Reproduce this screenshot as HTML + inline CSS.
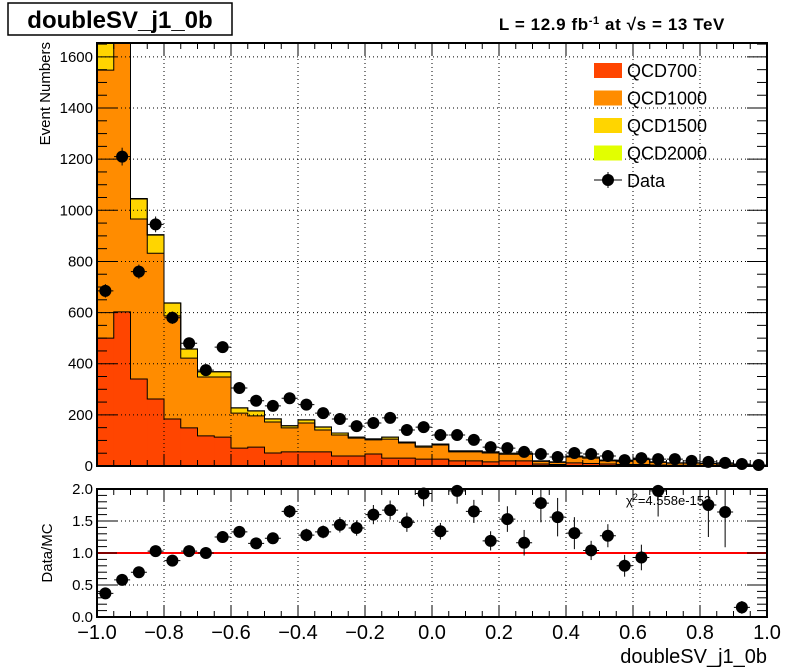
<!DOCTYPE html>
<html><head><meta charset="utf-8">
<style>
html,body{margin:0;padding:0;background:#fff;}
svg{display:block;font-family:"Liberation Sans",Arial,sans-serif;}
</style></head>
<body>
<svg id="c" width="798" height="669" viewBox="0 0 798 669" xmlns="http://www.w3.org/2000/svg">
<rect x="0" y="0" width="798" height="669" fill="#fff"/>
<g>
<rect x="8" y="3" width="224" height="32" fill="#fff" stroke="#000" stroke-width="1.5"/>
<text x="120" y="28" text-anchor="middle" font-size="24" font-weight="bold">doubleSV_j1_0b</text>
</g>
<text x="725" y="30" text-anchor="end" font-size="17" font-weight="bold" letter-spacing="0.6">L = 12.9 fb<tspan dy="-6" font-size="11">-1</tspan><tspan dy="6"> at  </tspan><tspan>√s = 13 TeV</tspan></text>
<g id="main"></g>
<g id="ratio"></g>
</svg>
<script>
const edges0 = -1.0, binW = 0.05;
const qcd700  = [500,603,340,262,184,149,118,113,70,74,51,55,55,55,39,39,47,31,31,27,27,20,20,16,20,20,8,6,12,10,8,6,6,4,3,3,2,2,1,1];
const qcd1000 = [1048,1300,626,570,403,273,230,235,137,122,121,94,113,86,82,70,55,74,59,47,55,35,35,35,26,26,10,8,23,21,12,12,19,10,8,8,7,5,4,3];
const qcd1500 = [300,190,78,71,50,35,20,20,20,19,12,8,12,11,8,4,4,8,4,4,4,4,4,4,4,4,2,2,4,4,3,2,2,2,1,1,1,1,1,0];
const qcd2000 = [5,5,2,2,1,1,1,1,1,1,1,1,1,1,0,0,0,0,0,0,0,0,0,0,0,0,0,0,0,0,0,0,0,0,0,0,0,0,0,0];
const dataVals = [685,1210,760,945,580,480,375,465,305,255,235,265,240,207,184,156,168,188,141,152,121,121,102,74,70,55,47,35,51,47,39,23,31,27,27,20,16,12,8,4];
const ratioVals = [0.37,0.58,0.70,1.03,0.88,1.03,1.0,1.25,1.33,1.15,1.23,1.65,1.28,1.33,1.44,1.39,1.60,1.67,1.48,1.93,1.34,1.97,1.65,1.19,1.53,1.16,1.78,1.56,1.31,1.04,1.27,0.80,0.93,1.97,null,null,1.75,1.64,0.15,null];
const ratioErr = [0.05,0.04,0.05,0.06,0.06,0.07,0.07,0.08,0.09,0.08,0.09,0.1,0.1,0.1,0.12,0.12,0.15,0.15,0.15,0.2,0.13,0.2,0.18,0.15,0.2,0.2,0.3,0.3,0.25,0.15,0.18,0.17,0.2,0.4,0,0,0.5,0.55,0.1,0];
const yTicks = [0,200,400,600,800,1000,1200,1400,1600];
const rTicks = [0,0.5,1.0,1.5,2.0];
const xTicks = [-1.0,-0.8,-0.6,-0.4,-0.2,0.0,0.2,0.4,0.6,0.8,1.0];
const legendNames = ["QCD700","QCD1000","QCD1500","QCD2000"];
const colors = ["#ff4500","#ff8c00","#ffd500","#e2ff00"];

const NS="http://www.w3.org/2000/svg";
const X0=97,X1=767,MY0=43,MY1=466,RY0=489,RY1=617;
const YMAX=(MY1-MY0)/0.2557;
const xs=v=>X0+(v+1)/2*(X1-X0);
const ym=v=>MY1-Math.min(v,YMAX)*0.2557;
const yr=v=>RY1-v*64;
function mk(tag,attrs,parent){const e=document.createElementNS(NS,tag);for(const k in attrs)e.setAttribute(k,attrs[k]);parent.appendChild(e);return e;}
const main=document.getElementById('main'), ratio=document.getElementById('ratio');

const series=[qcd700,qcd1000,qcd1500,qcd2000];
const n=dataVals.length;
const cum=series.map(()=>new Array(n).fill(0));
for(let i=0;i<n;i++){let b=0;series.forEach((s,k)=>{b+=s[i];cum[k][i]=b;});}
for(let k=series.length-1;k>=0;k--){
  for(let i=0;i<n;i++){
    const xa=xs(edges0+i*binW), xb=xs(edges0+(i+1)*binW);
    const r=mk('rect',{x:xa,y:ym(cum[k][i]),width:xb-xa+0.3,height:MY1-ym(cum[k][i]),fill:colors[k]},main);
    
    
  }
}
for(let k=0;k<series.length;k++){
  let d='M'+xs(edges0)+','+MY1;
  for(let i=0;i<n;i++){d+=' L'+xs(edges0+i*binW)+','+ym(cum[k][i])+' L'+xs(edges0+(i+1)*binW)+','+ym(cum[k][i]);}
  d+=' L'+xs(edges0+n*binW)+','+MY1;
  const p=mk('path',{d:d,fill:'none',stroke:'#000','stroke-width':1},main);
  
  
}
xTicks.slice(1,-1).forEach(t=>{const l=mk('line',{x1:xs(t),x2:xs(t),y1:MY0,y2:MY1,stroke:'#000','stroke-width':1,'stroke-dasharray':'1,3'},main);

});
yTicks.slice(1).forEach(t=>{const l=mk('line',{x1:X0,x2:X1,y1:ym(t),y2:ym(t),stroke:'#000','stroke-width':1,'stroke-dasharray':'1,3'},main);

});
for(let i=0;i<n;i++){
  const cx=xs(edges0+(i+0.5)*binW), v=dataVals[i], e=Math.sqrt(v);
  const g=mk('g',{},main);
  
  
  mk('line',{x1:cx,x2:cx,y1:ym(v+e),y2:ym(Math.max(v-e,0)),stroke:'#000','stroke-width':1},g);
  mk('line',{x1:cx-8,x2:cx+8,y1:ym(v),y2:ym(v),stroke:'#000','stroke-width':1},g);
  mk('circle',{cx:cx,cy:ym(v),r:6,fill:'#000'},g);
}
const fm=mk('rect',{x:X0,y:MY0,width:X1-X0,height:MY1-MY0,fill:'none',stroke:'#000','stroke-width':2},main);


for(let v=0;v<=1650;v+=50){const big=v%200===0;
  mk('line',{x1:X0,x2:X0+(big?20:10),y1:ym(v),y2:ym(v),stroke:'#000','stroke-width':1},main);
  mk('line',{x1:X1,x2:X1-(big?20:10),y1:ym(v),y2:ym(v),stroke:'#000','stroke-width':1},main);}
yTicks.forEach(t=>{const tx=mk('text',{x:X0-4,y:ym(t)+5,'text-anchor':'end','font-size':15},main);tx.textContent=t;

});
for(let v=-1;v<=1.0001;v+=0.05){const big=Math.abs(Math.round(v*5)-v*5)<1e-6;
  mk('line',{x1:xs(v),x2:xs(v),y1:MY1,y2:MY1-(big?12:6),stroke:'#000','stroke-width':1},main);
  mk('line',{x1:xs(v),x2:xs(v),y1:MY0,y2:MY0+(big?12:6),stroke:'#000','stroke-width':1},main);}
const yt=mk('text',{x:0,y:0,transform:'translate(50,42) rotate(-90)','text-anchor':'end','font-size':15},main);yt.textContent='Event Numbers';



const leg=mk('g',{},main);


legendNames.forEach((nm,k)=>{const y=63+k*27.5;
  const g=mk('g',{},leg);
  
  
  mk('rect',{x:594,y:y,width:28,height:15,fill:colors[k]},g);
  const t=mk('text',{x:627,y:y+14,'font-size':18},g);t.textContent=nm;});
{const g=mk('g',{},leg);


mk('line',{x1:594,x2:622,y1:180,y2:180,stroke:'#000','stroke-width':1},g);
mk('line',{x1:608,x2:608,y1:172,y2:188,stroke:'#000','stroke-width':1},g);
mk('circle',{cx:608,cy:180,r:6,fill:'#000'},g);
const t=mk('text',{x:627,y:187,'font-size':18},g);t.textContent='Data';}

[0.5,1.0,1.5].forEach(t=>{const l=mk('line',{x1:X0,x2:X1,y1:yr(t),y2:yr(t),stroke:'#000','stroke-width':1,'stroke-dasharray':'1,3'},ratio);

});
xTicks.slice(1,-1).forEach(t=>{mk('line',{x1:xs(t),x2:xs(t),y1:RY0,y2:RY1,stroke:'#000','stroke-width':1,'stroke-dasharray':'1,3'},ratio);});
const rl=mk('line',{x1:X0,x2:X1,y1:yr(1),y2:yr(1),stroke:'#f00','stroke-width':2},ratio);


for(let i=0;i<ratioVals.length;i++){const v=ratioVals[i];if(v===null)continue;
  const cx=xs(edges0+(i+0.5)*binW), e=ratioErr[i];
  const g=mk('g',{},ratio);
  
  
  mk('line',{x1:cx,x2:cx,y1:Math.max(yr(v+e),RY0),y2:yr(Math.max(v-e,0)),stroke:'#000','stroke-width':1},g);
  mk('line',{x1:cx-8,x2:cx+8,y1:yr(v),y2:yr(v),stroke:'#000','stroke-width':1},g);
  mk('circle',{cx:cx,cy:yr(v),r:6,fill:'#000'},g);}
const chi=mk('text',{x:626,y:505,'font-size':13},ratio);chi.innerHTML='χ<tspan dy="-5" font-size="9">2</tspan><tspan dy="5">=4.558e-153</tspan>';


const fr=mk('rect',{x:X0,y:RY0,width:X1-X0,height:RY1-RY0,fill:'none',stroke:'#000','stroke-width':2},ratio);


for(let v=0;v<=2.0001;v+=0.1){const big=Math.abs(Math.round(v*2)-v*2)<1e-6;
  mk('line',{x1:X0,x2:X0+(big?20:10),y1:yr(v),y2:yr(v),stroke:'#000','stroke-width':1},ratio);
  mk('line',{x1:X1,x2:X1-(big?20:10),y1:yr(v),y2:yr(v),stroke:'#000','stroke-width':1},ratio);}
for(let v=-1;v<=1.0001;v+=0.05){const big=Math.abs(Math.round(v*5)-v*5)<1e-6;
  mk('line',{x1:xs(v),x2:xs(v),y1:RY1,y2:RY1-(big?12:6),stroke:'#000','stroke-width':1},ratio);
  mk('line',{x1:xs(v),x2:xs(v),y1:RY0,y2:RY0+(big?12:6),stroke:'#000','stroke-width':1},ratio);}
rTicks.forEach(t=>{const tx=mk('text',{x:X0-4,y:yr(t)+5,'text-anchor':'end','font-size':15},ratio);tx.textContent=t.toFixed(1);

});
xTicks.forEach(t=>{const tx=mk('text',{x:xs(t),y:639,'text-anchor':'middle','font-size':20},ratio);tx.textContent=(t<0?'\u2212':'')+Math.abs(t).toFixed(1);

});
const rt=mk('text',{x:0,y:0,transform:'translate(52,553) rotate(-90)','text-anchor':'middle','font-size':15},ratio);rt.textContent='Data/MC';


const xt=mk('text',{x:767,y:663,'text-anchor':'end','font-size':20},ratio);xt.textContent='doubleSV_j1_0b';


</script>
</body></html>
